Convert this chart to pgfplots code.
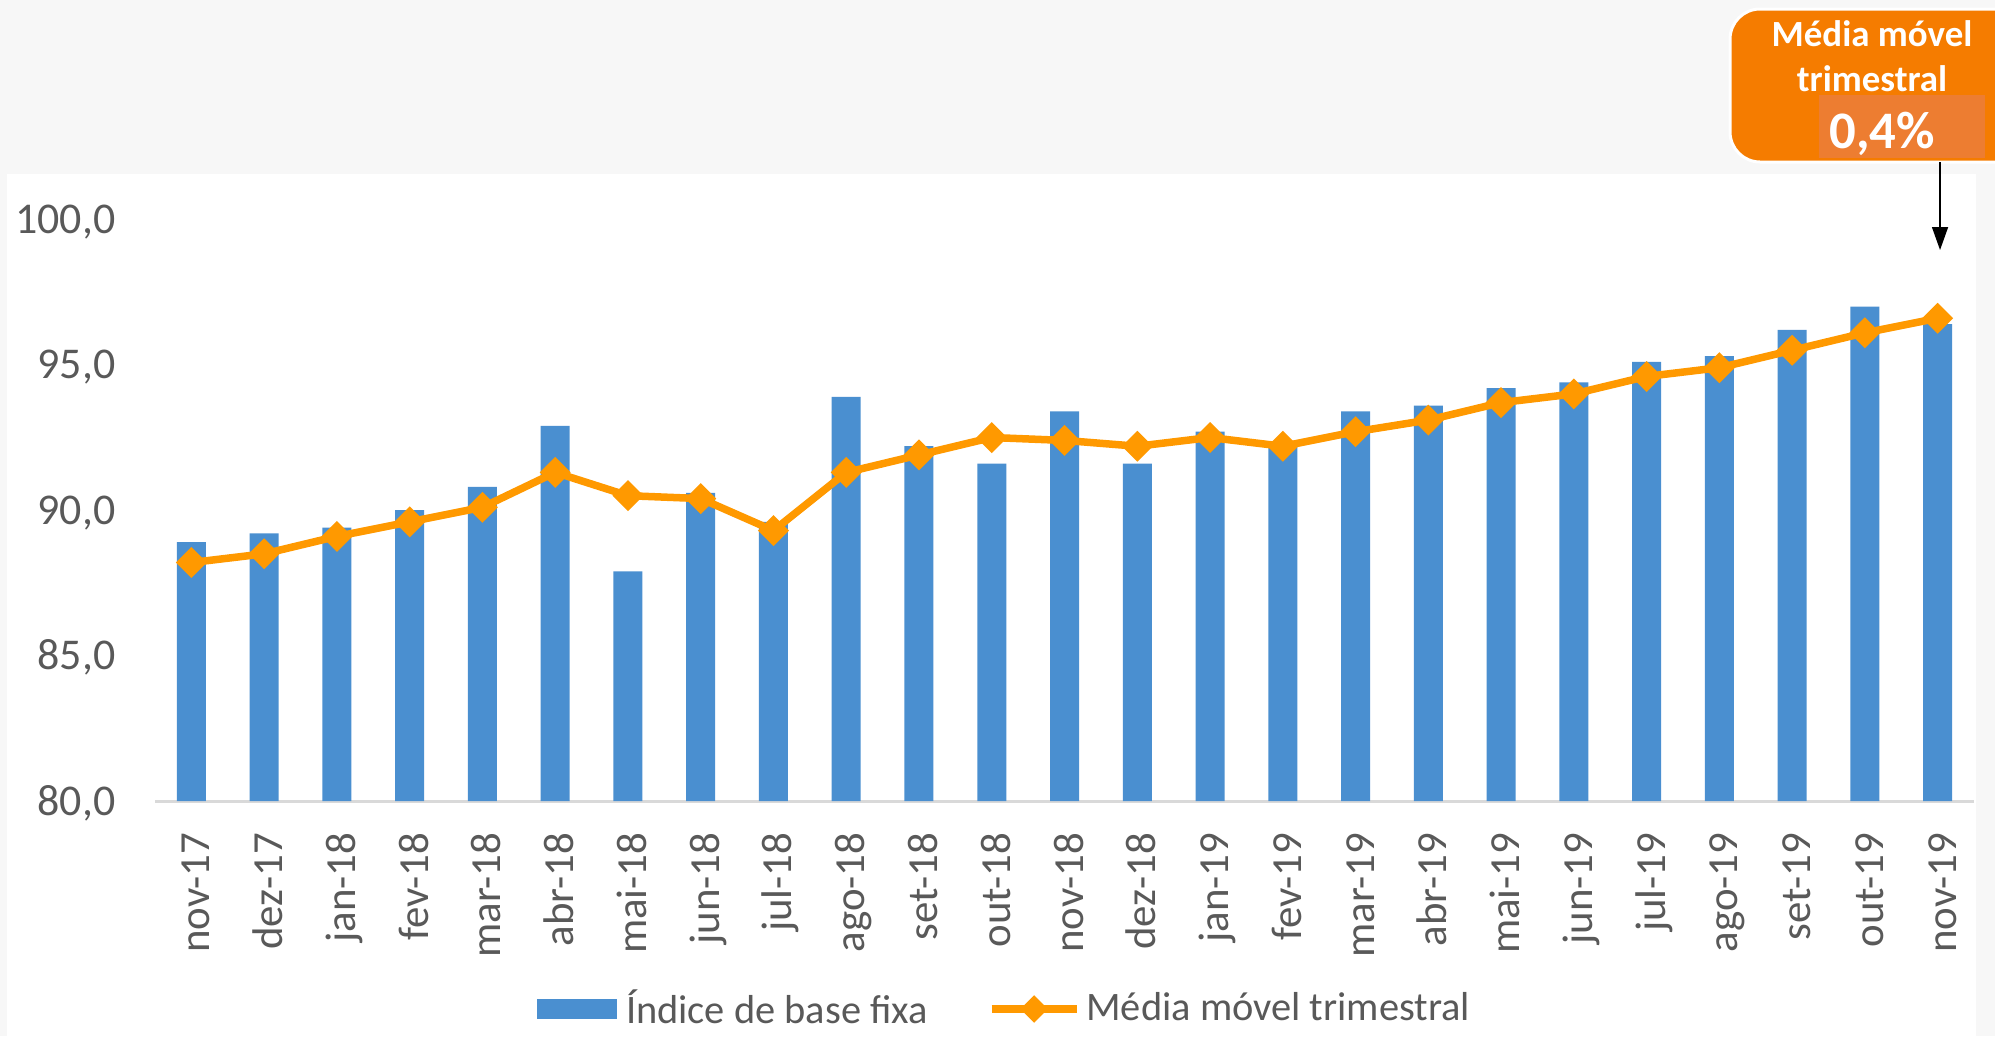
\documentclass[border=0pt]{standalone}
\usepackage{pgfplots}
\pgfplotsset{compat=1.18}
\usepackage{fontspec}
\setmainfont{Carlito}
\usetikzlibrary{arrows.meta}
\definecolor{cbar}{HTML}{4A8FD0}
\definecolor{cline}{HTML}{FF9900}
\definecolor{ctext}{HTML}{595959}
\definecolor{caxis}{HTML}{D9D9D9}
\definecolor{cbg}{HTML}{F7F7F7}
\definecolor{corange}{HTML}{F57C00}
\definecolor{cinner}{HTML}{ED7D31}

\pgfplotstableread{
x bar line
0 88.9 88.2
1 89.2 88.5
2 89.4 89.1
3 90.0 89.6
4 90.8 90.1
5 92.9 91.3
6 87.9 90.5
7 90.6 90.4
8 89.6 89.3
9 93.9 91.3
10 92.2 91.9
11 91.6 92.5
12 93.4 92.4
13 91.6 92.2
14 92.7 92.5
15 92.2 92.2
16 93.4 92.7
17 93.6 93.1
18 94.2 93.7
19 94.4 94.0
20 95.1 94.6
21 95.3 94.9
22 96.2 95.5
23 97.0 96.1
24 96.4 96.6
}\datatable

\pgfplotsset{
  barlegend/.style={legend image code/.code={\fill[cbar] (0mm,-1mm) rectangle (8mm,1mm);}},
  linelegend/.style={legend image code/.code={\draw[mark repeat=2, mark phase=2, ##1, mark size=0.6mm] plot coordinates {(0mm,0mm) (4.25mm,0mm) (8.5mm,0mm)};}},
}

\begin{document}
\begin{tikzpicture}
\path[use as bounding box] (0,0) rectangle (199.5mm,-103.6mm);
\fill[cbg] (0,0) rectangle (199.5mm,-103.6mm);
\fill[white] (0.7mm,-17.4mm) rectangle (197.6mm,-103.6mm);
\begin{axis}[
  at={(15.5mm,-80.1mm)}, anchor=south west,
  scale only axis, width=181.9mm, height=58.16mm,
  xmin=-0.5, xmax=24.5, ymin=80, ymax=100,
  axis x line*=bottom, axis y line*=left,
  x axis line style={draw=caxis, line width=0.3mm},
  y axis line style={draw=none},
  major tick length=0pt,
  xtick={0,...,24},
  xticklabels={nov-17,dez-17,jan-18,fev-18,mar-18,abr-18,mai-18,jun-18,jul-18,ago-18,set-18,out-18,nov-18,dez-18,jan-19,fev-19,mar-19,abr-19,mai-19,jun-19,jul-19,ago-19,set-19,out-19,nov-19},
  xticklabel style={font=\fontsize{12.2}{14}\selectfont, text=ctext, inner sep=0pt, xshift=1.85mm, yshift=-3.1mm, rotate=90, anchor=base east},
  ytick={80,85,90,95,100},
  /pgf/number format/assume math mode=true,
  yticklabel={\pgfmathprintnumber[fixed,fixed zerofill,precision=1,use comma]{\tick}},
  yticklabel style={font=\fontsize{12.5}{14}\selectfont, text=ctext, inner sep=0pt, anchor=base east, xshift=-3.9mm, yshift=-1.4mm},
  legend columns=2,
  legend style={at={(0.2100,-0.3576)}, anchor=west, draw=none, fill=none, inner sep=0pt, outer sep=0pt, column sep=0pt,
    nodes={inner sep=0pt, font=\fontsize{11.5}{13}\selectfont, text=ctext}},
]
\addplot[ybar, bar width=2.9mm, fill=cbar, draw=none, barlegend]
  table[x=x, y=bar] {\datatable};
\addlegendentry{\hspace{0.9mm}Índice de base fixa\kern6mm\null}
\addplot[color=cline, line width=0.75mm, mark=square*, mark size=0.72mm,
  mark options={rotate=45, draw=none, fill=cline, solid}, linelegend]
  table[x=x, y=line] {\datatable};
\addlegendentry{\hspace{0.6mm}Média móvel trimestral}
\end{axis}
\begin{scope}[x=0.1mm, y=-0.1mm]
\filldraw[fill=corange, draw=white, line width=0.3mm, rounded corners=3mm] (1730,9) rectangle (2040,162);
\fill[cinner] (1819,95) rectangle (1985,158);
\node[font=\fontsize{10.5}{12}\selectfont\bfseries, text=white, anchor=base, inner sep=0pt] at (1872,46) {Média móvel};
\node[font=\fontsize{10.5}{12}\selectfont\bfseries, text=white, anchor=base, inner sep=0pt] at (1872,91) {trimestral};
\node[font=\fontsize{15}{18}\selectfont\bfseries, text=white, anchor=base, inner sep=0pt] at (1882,148) {0,4\%};
\draw[line width=0.15mm, -{Triangle[length=2.3mm, width=1.6mm]}] (1940,162) -- (1940,250);
\end{scope}
\end{tikzpicture}
\end{document}
